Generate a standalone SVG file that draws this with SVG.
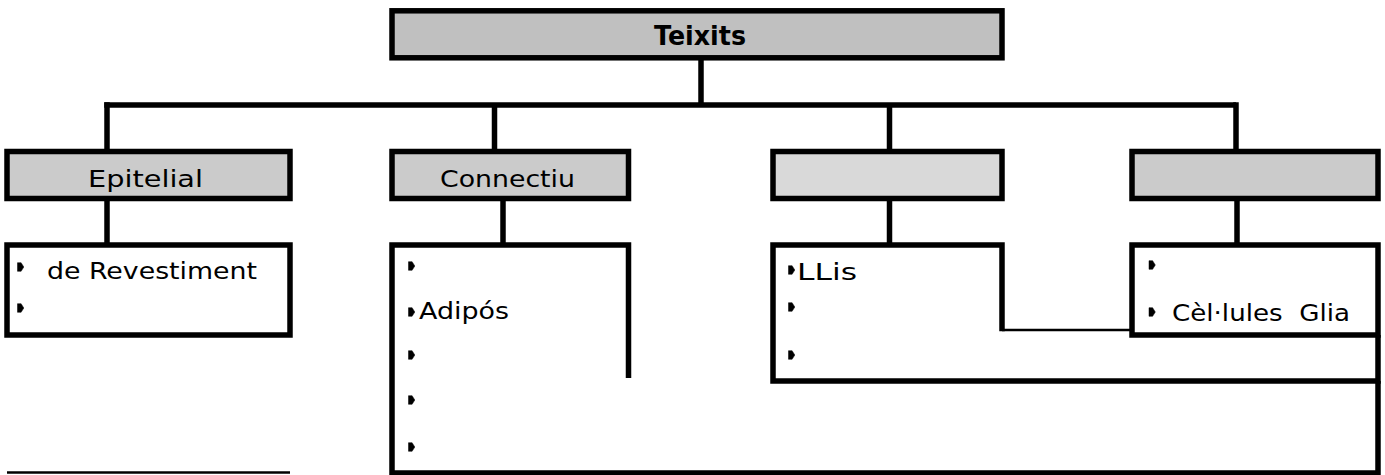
<svg xmlns="http://www.w3.org/2000/svg" width="1385" height="475" viewBox="0 0 1385 475">
  <style>
    .box { stroke: #000; stroke-width: 5.5; stroke-linejoin: miter; }
    .outline { fill: none; stroke: #000; stroke-width: 5.5; stroke-linejoin: miter; stroke-linecap: butt; }
    .thin { fill: none; stroke: #000; stroke-width: 2.7; }
    .fill-top { fill: #c0c0c0; }
    .fill-mid { fill: #cbcbcb; }
    .fill-light { fill: #d9d9d9; }
    .plain { fill: #fff; }
    .wire { fill: none; stroke: #000; stroke-width: 5.5; stroke-linecap: butt; }
    text { font-family: "DejaVu Sans", "Liberation Sans", sans-serif; fill: #000; }
    .title { font-size: 26px; font-weight: bold; }
    .label { font-size: 23px; }
    .item { font-size: 23px; }
  </style>
  <defs>
    <!-- list marker: small right-pointing pentagon -->
    <path id="bullet" d="M-3,-4.3 L0.6,-4.3 L3.3,0 L0.6,4.3 L-3,4.3 Z" fill="#000" stroke="#000" stroke-width="0.5" stroke-linejoin="round"/>
  </defs>

  <!-- connectors -->
  <g id="connectors">
    <path class="wire" d="M701,58 V105"/>
    <path class="wire" d="M104.25,105 H1236"/>
    <path class="wire" d="M107,102.25 V151.5"/>
    <path class="wire" d="M494.5,105 V151.5"/>
    <path class="wire" d="M889.5,105 V151.5"/>
    <path class="wire" d="M1236,102.25 V151.5"/>
    <path class="wire" d="M107,198.5 V245"/>
    <path class="wire" d="M503,198.5 V245"/>
    <path class="wire" d="M889.5,198.5 V245"/>
    <path class="wire" d="M1237,198.5 V245"/>
  </g>

  <!-- root -->
  <g id="teixits">
    <rect class="box fill-top" x="392" y="10.8" width="610" height="47"/>
    <text class="title" x="654" y="45" textLength="92" lengthAdjust="spacingAndGlyphs">Teixits</text>
  </g>

  <!-- second level -->
  <g id="epitelial">
    <rect class="box fill-mid" x="7" y="151.5" width="283" height="47"/>
    <text class="label" x="88" y="187" textLength="115" lengthAdjust="spacingAndGlyphs">Epitelial</text>
  </g>
  <g id="connectiu">
    <rect class="box fill-mid" x="392" y="151.5" width="236.5" height="47"/>
    <text class="label" x="440" y="187" textLength="135" lengthAdjust="spacingAndGlyphs">Connectiu</text>
  </g>
  <g id="tissue-3">
    <rect class="box fill-light" x="773" y="151.5" width="229" height="47"/>
  </g>
  <g id="tissue-4">
    <rect class="box fill-mid" x="1132" y="151.5" width="246" height="47"/>
  </g>

  <!-- lists -->
  <g id="epitelial-list">
    <rect class="box plain" x="7" y="245" width="283" height="90"/>
    <use href="#bullet" x="20.5" y="267"/>
    <text class="item" x="47" y="279" textLength="210" lengthAdjust="spacingAndGlyphs">de Revestiment</text>
    <use href="#bullet" x="20.5" y="308"/>
  </g>

  <g id="connectiu-list">
    <path class="outline" d="M628.5,378 V245 H392 V473 H1378 V381"/>
    <use href="#bullet" x="411.5" y="266"/>
    <use href="#bullet" x="411.5" y="312"/>
    <text class="item" x="419" y="319" textLength="90" lengthAdjust="spacingAndGlyphs">Adipós</text>
    <use href="#bullet" x="411.5" y="355"/>
    <use href="#bullet" x="411.5" y="400"/>
    <use href="#bullet" x="411.5" y="447"/>
  </g>

  <g id="tissue-3-list">
    <path class="outline" d="M1002,331.3 V245 H773 V381 H1378 V335"/>
    <path class="thin" d="M1002,330 H1132"/>
    <use href="#bullet" x="791.5" y="270"/>
    <text class="item" x="797" y="280" textLength="60" lengthAdjust="spacingAndGlyphs">LLis</text>
    <use href="#bullet" x="791.5" y="307"/>
    <use href="#bullet" x="791.5" y="355"/>
  </g>

  <g id="tissue-4-list">
    <rect class="box plain" x="1132" y="245" width="246" height="90"/>
    <use href="#bullet" x="1152" y="265"/>
    <use href="#bullet" x="1152" y="312"/>
    <text class="item" x="1172" y="321" xml:space="preserve" textLength="178" lengthAdjust="spacingAndGlyphs">Cèl·lules  Glia</text>
  </g>

  <g id="footer-rule">
    <path class="thin" d="M7,472.5 H290"/>
  </g>
</svg>
